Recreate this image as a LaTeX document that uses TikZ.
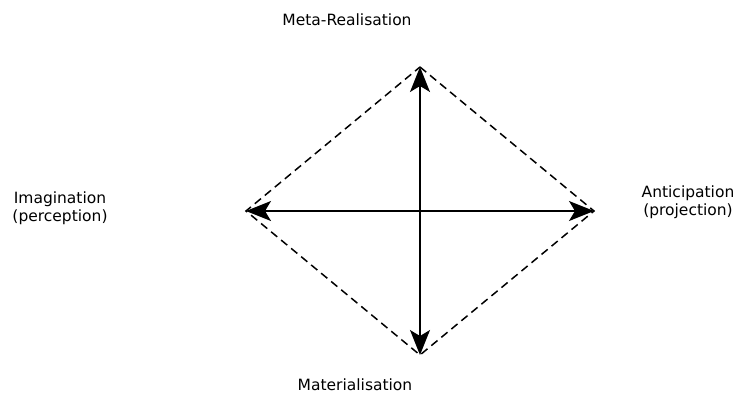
\documentclass[tikz,border=0pt]{standalone}
\usepackage{fontspec}
\setmainfont{DejaVu Sans}
\usetikzlibrary{arrows.meta}
\begin{document}
\begin{tikzpicture}[x=1pt,y=-1pt,
  axis/.style={line width=1.6pt,{Stealth[length=25pt,width=20pt,inset=6pt]}-{Stealth[length=25pt,width=20pt,inset=6pt]}},
  edge/.style={line width=1.5pt,dash pattern=on 8pt off 5pt},
  lbl/.style={font=\fontsize{15.5}{18}\selectfont,align=center,inner sep=0pt}]
\useasboundingbox (0,0) rectangle (736,394);
\coordinate (T) at (420,67);
\coordinate (B) at (420,355);
\coordinate (L) at (246,211);
\coordinate (R) at (594,211);
\draw[edge] (T) -- (R) -- (B) -- (L) -- cycle;
\draw[axis] (T) -- (B);
\draw[axis] (L) -- (R);
\node[lbl] (meta) at (347,20) {Meta-Realisation};
\node[lbl] (imag) at (60,208) {Imagination\\(perception)};
\node[lbl] (anti) at (688,202) {Anticipation\\(projection)};
\node[lbl,anchor=base] (mat) at (355,390) {Materialisation};
\end{tikzpicture}
\end{document}
